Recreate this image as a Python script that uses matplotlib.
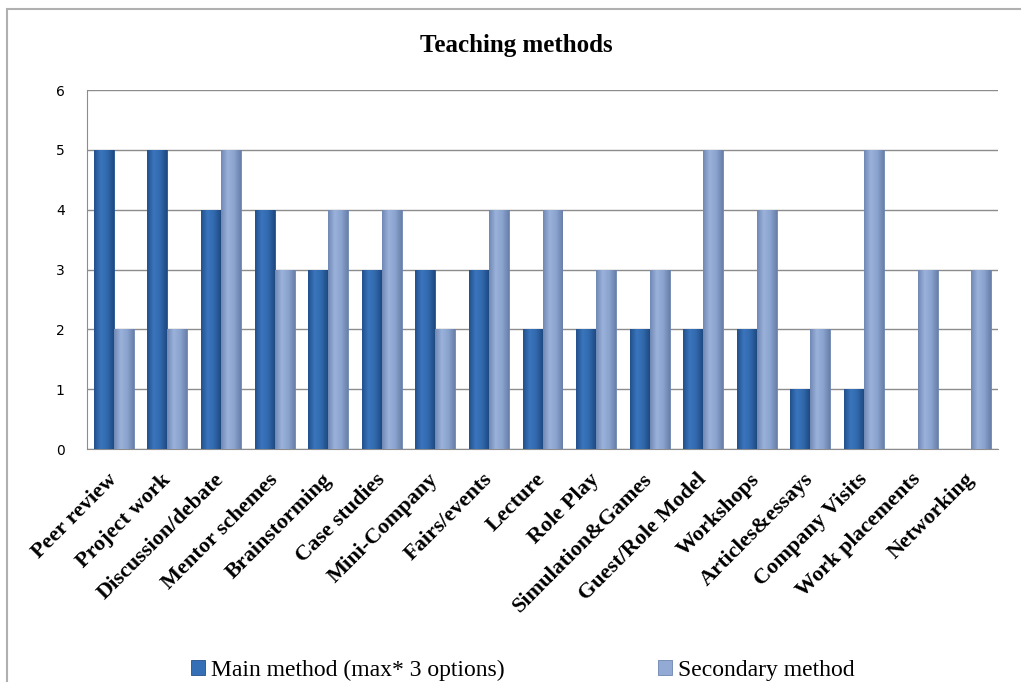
import numpy as np
import matplotlib
matplotlib.use("Agg")
from matplotlib import pyplot as plt
from matplotlib.patches import Rectangle
from matplotlib.colors import LinearSegmentedColormap
from matplotlib.transforms import ScaledTranslation

categories = ["Peer review", "Project work", "Discussion/debate", "Mentor schemes",
              "Brainstorming", "Case studies", "Mini-Company", "Fairs/events", "Lecture",
              "Role Play", "Simulation&Games", "Guest/Role Model", "Workshops",
              "Articles&essays", "Company Visits", "Work placements", "Networking"]
main_method = [5, 5, 4, 4, 3, 3, 3, 3, 2, 2, 2, 2, 2, 1, 1, 0, 0]
secondary_method = [2, 2, 5, 3, 4, 4, 2, 4, 4, 3, 3, 5, 4, 2, 5, 3, 3]

fig = plt.figure(figsize=(10.21, 6.82), dpi=100)
ax = fig.add_axes([0.0852, 0.3416, 0.8923, 0.5264])

# outer chart frame (top and left visible)
fig.add_artist(Rectangle((0.0073, -0.05), 1.2, 1.037, transform=fig.transFigure,
                         fill=False, edgecolor="#b0b0b0", linewidth=1.5))

x = np.arange(len(categories))
w = 0.373
main_cmap = LinearSegmentedColormap.from_list("m", ["#22508c", "#3a75bd", "#3169ad", "#1f4a82"])
sec_cmap = LinearSegmentedColormap.from_list("s", ["#7088b4", "#9ab2da", "#8aa3cf", "#6a80aa"])
grad = np.linspace(0, 1, 64).reshape(1, -1)


def shaded_bars(pos, vals, cmap, edge, label):
    bars = ax.bar(pos, vals, w, color=cmap(0.5), edgecolor=edge,
                  linewidth=0.6, label=label, zorder=3)
    for b in bars:
        if b.get_height() <= 0:
            continue
        bx, by = b.get_x(), b.get_y()
        im = ax.imshow(grad, cmap=cmap, aspect="auto", zorder=3.5,
                       extent=(bx, bx + b.get_width(), by, by + b.get_height()))
        im.set_clip_path(b)
    return bars


shaded_bars(x - w/2, main_method, main_cmap, "#22508c", "Main method (max* 3 options)")
shaded_bars(x + w/2, secondary_method, sec_cmap, "#6d84ae", "Secondary method")

ax.set_xlim(-0.5, len(categories) - 0.5)
ax.set_ylim(0, 6)
ax.set_yticks(range(7))
ax.yaxis.grid(True, color="#8c8c8c", linewidth=1.0, zorder=0)
for s in ["top", "right"]:
    ax.spines[s].set_visible(False)
ax.spines["left"].set_color("#8c8c8c")
ax.spines["bottom"].set_color("#8c8c8c")
ax.tick_params(axis="y", length=0, pad=16, labelsize=10)
ax.tick_params(axis="x", length=0, pad=9)
ax.set_xticks(x)
ax.set_xticklabels(categories, rotation=45, ha="right", rotation_mode="anchor",
                   fontfamily="Liberation Serif", fontweight="bold", fontsize=16)
shift = ScaledTranslation(-0.07, -0.08, fig.dpi_scale_trans)
for lab in ax.get_xticklabels():
    lab.set_transform(lab.get_transform() + shift)

fig.text(0.506, 0.934, "Teaching methods", ha="center", va="center",
         fontfamily="Liberation Serif", fontweight="bold", fontsize=18)

fig.legend(loc="center", bbox_to_anchor=(0.512, 0.017), ncol=2, frameon=False,
           prop={"family": "Liberation Serif", "size": 17}, handlelength=0.6,
           handleheight=0.6, handletextpad=0.25, columnspacing=6.5)

fig.savefig("out.png", dpi=100)
